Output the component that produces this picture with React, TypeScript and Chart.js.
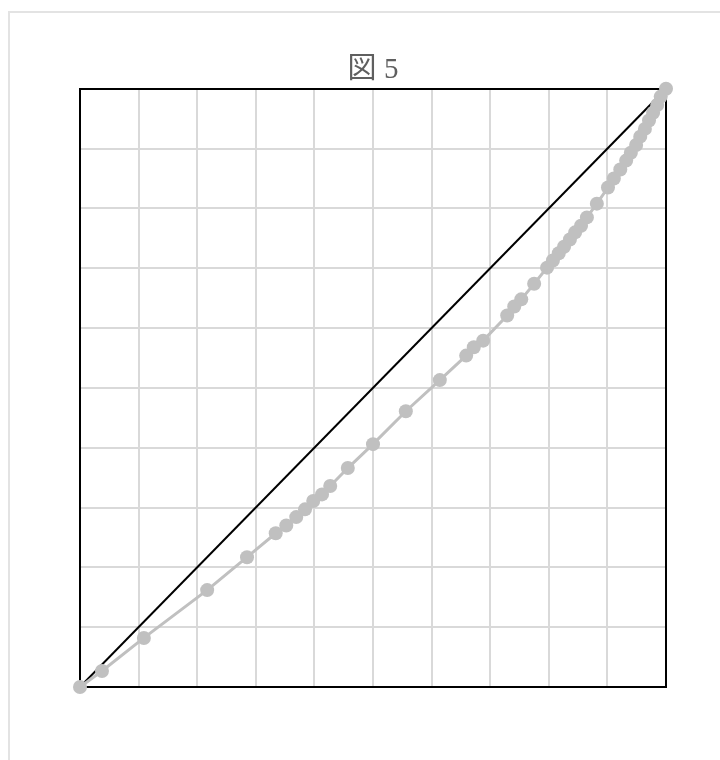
import React, { useEffect, useRef } from "react";
import { Chart, registerables } from "chart.js";

Chart.register(...registerables);

const titleText = "図 5";

// cumulative share of population (x) and cumulative share of income (y)
const popShare = [
  0, 0.0375, 0.109, 0.217, 0.285, 0.334, 0.352, 0.369, 0.384, 0.398, 0.413,
  0.427, 0.457, 0.5, 0.556, 0.614, 0.659, 0.672, 0.688, 0.729, 0.741, 0.753,
  0.775, 0.797, 0.807, 0.817, 0.826, 0.836, 0.845, 0.855, 0.865, 0.882, 0.901,
  0.911, 0.922, 0.932, 0.94, 0.949, 0.956, 0.964, 0.971, 0.978, 0.985, 0.991, 1,
];
const incomeShare = [
  0, 0.0267, 0.082, 0.162, 0.217, 0.257, 0.27, 0.284, 0.297, 0.311, 0.322,
  0.336, 0.366, 0.406, 0.461, 0.513, 0.554, 0.568, 0.579, 0.621, 0.636, 0.648,
  0.674, 0.701, 0.713, 0.725, 0.736, 0.748, 0.76, 0.771, 0.785, 0.808, 0.835,
  0.85, 0.865, 0.88, 0.893, 0.906, 0.92, 0.933, 0.947, 0.96, 0.973, 0.987, 1,
];
const equalityX = [0, 1];
const equalityY = [0, 1];

export default function App() {
  const ref = useRef<HTMLCanvasElement | null>(null);

  useEffect(() => {
    if (!ref.current) return;
    const hiddenAxis = (position: string, showGrid: boolean) => ({
      type: "linear" as const,
      position,
      min: 0,
      max: 1,
      display: true,
      ticks: { display: false, stepSize: 0.1 },
      grid: {
        display: showGrid,
        color: "#d9d9d9",
        lineWidth: 2,
        drawTicks: false,
      },
      border: { display: true, color: "#000000", width: 2 },
    });
    const chart = new Chart(ref.current, {
      type: "line",
      data: {
        datasets: [
          {
            label: "Lorenz",
            data: popShare.map((x, i) => ({ x, y: incomeShare[i] })),
            borderColor: "#c0c0c0",
            backgroundColor: "#c0c0c0",
            borderWidth: 3,
            pointRadius: 7,
            pointBorderWidth: 0,
            pointBackgroundColor: "#c0c0c0",
            clip: false,
            order: 0,
          },
          {
            label: "Equality",
            data: equalityX.map((x, i) => ({ x, y: equalityY[i] })),
            borderColor: "#000000",
            borderWidth: 2,
            pointRadius: 0,
            order: 1,
          },
        ],
      },
      options: {
        animation: false,
        responsive: true,
        maintainAspectRatio: false,
        layout: { padding: { left: 70, right: 44, top: 40, bottom: 66 } },
        plugins: {
          legend: { display: false },
          tooltip: { enabled: false },
          title: {
            display: true,
            text: titleText,
            color: "#5f5f5f",
            font: {
              family: "'Liberation Serif', 'DejaVu Serif', 'Noto Sans CJK JP', serif",
              size: 29,
              weight: "normal",
            },
            padding: { top: 0, bottom: 1 },
          },
        },
        scales: {
          x: hiddenAxis("bottom", true),
          y: hiddenAxis("left", true),
          x2: hiddenAxis("top", false),
          y2: hiddenAxis("right", false),
        },
      } as any,
    });
    return () => chart.destroy();
  }, []);

  return (
    <div
      style={{
        position: "absolute",
        left: 8,
        top: 11,
        width: 712,
        height: 749,
        boxSizing: "border-box",
        borderTop: "2px solid #e3e3e3",
        borderLeft: "2px solid #e3e3e3",
        overflow: "hidden",
      }}
    >
      <div style={{ position: "relative", width: 700, height: 740 }}>
        <canvas ref={ref} />
      </div>
    </div>
  );
}
